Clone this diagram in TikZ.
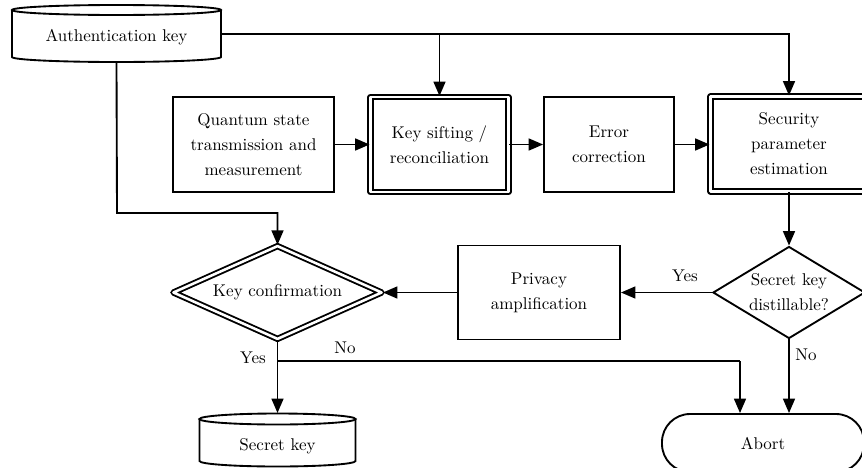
\documentclass[tikz,border=0pt]{standalone}
\usetikzlibrary{shapes.geometric,arrows.meta}
\begin{document}
\begin{tikzpicture}[x=0.588pt,y=0.588pt,
  line width=1.1pt,
  arr/.style={-{Triangle[length=8.5pt,width=7pt]}},
  box/.style={draw, rectangle, align=center, inner sep=0pt, minimum height=55.9pt},
  dbl/.style={double, double distance=1.5pt, line join=round},
  lbl/.style={inner sep=0pt, font=\normalsize},
  ghost/.style={rectangle, inner sep=0pt, draw=none}
]
\useasboundingbox (0,0) rectangle (862,-467);
\clip (0,0) rectangle (862,-467);

% Authentication key cylinder
\draw (116.5,-10) ellipse [x radius=104.5, y radius=5];
\draw (12,-10) -- (12,-57) arc[start angle=180, end angle=360, x radius=104.5, y radius=5] -- (221,-10);
\node[ghost, minimum width=122.9pt, minimum height=32.9pt] (auth) at (116.5,-34) {};
\node[lbl] (authtext) at (116.5,-37) {Authentication key};

% Top row
\node[box, minimum width=94.7pt] (qst) at (253.5,-144.5)
  {Quantum state\\[2.7pt]transmission and\\[2.7pt]measurement};
\node[box, dbl, minimum width=81.1pt] (ks) at (439.5,-144.5)
  {Key sifting /\\[2.7pt]reconciliation};
\node[box, minimum width=76.4pt] (ec) at (609,-144.5)
  {Error\\[2.7pt]correction};
\node[box, dbl, minimum width=92.3pt] (spe) at (789,-144)
  {Security\\[2.7pt]parameter\\[2.7pt]estimation};

% Middle row
\node[diamond, draw, inner sep=0pt, minimum width=89.4pt, minimum height=54.1pt] (dist) at (789,-292.5) {};
\node[lbl, align=center] (disttext) at (789,-292.5) {Secret key\\[2.7pt]distillable?};
\node[box, minimum width=95.3pt, minimum height=55.3pt] (pa) at (539,-292.5)
  {Privacy\\[2.7pt]amplification};
\node[diamond, draw, dbl, inner sep=0pt, minimum width=122.9pt, minimum height=55pt] (kc) at (277.5,-292.5) {};
\node[lbl] (kctext) at (277.5,-292.5) {Key confirmation};

% Secret key cylinder
\draw (277.5,-419) ellipse [x radius=78, y radius=5.5];
\draw (199.5,-419) -- (199.5,-461) arc[start angle=180, end angle=360, x radius=78, y radius=5.5] -- (355.5,-419);
\node[ghost, minimum width=91.7pt, minimum height=28pt] (sk) at (277.5,-437.5) {};
\node[lbl] (sktext) at (277.5,-446) {Secret key};

% Abort
\node[draw, rectangle, rounded corners=16.5pt, minimum width=118.8pt, minimum height=34.1pt] (abort) at (763,-443) {Abort};

% Connectors
\coordinate (j1) at (117,-213);
\coordinate (j2) at (277.5,-361);
\coordinate (j3) at (740,-361);
\draw[arr] (auth.east) -| (spe.north);
\draw[arr] (ks.north |- auth.east) -- (ks.north);
\draw[arr] (auth.south) -- (j1) -| (kc.north);
\draw[arr] (qst.east) -- (ks.west);
\draw[arr] (ks.east) -- (ec.west);
\draw[arr] (ec.east) -- (ec.east -| spe.west);
\draw[arr] (spe.south) -- (dist.north);
\draw[arr] (dist.west) -- (pa.east);
\draw[arr] (pa.west) -- (kc.east);
\draw[arr] (kc.south) -- (sk.north |- 0,-413);
\draw (j2) -- (j3);
\draw[arr] (j3) -- (j3 |- abort.north);
\draw[arr] (dist.south) -- (dist.south |- abort.north);

% Labels
\node[lbl] (yes1) at (685,-276) {Yes};
\node[lbl] (yes2) at (253,-358) {Yes};
\node[lbl] (no1) at (345,-348) {No};
\node[lbl] (no2) at (806,-355) {No};
\end{tikzpicture}
\end{document}
